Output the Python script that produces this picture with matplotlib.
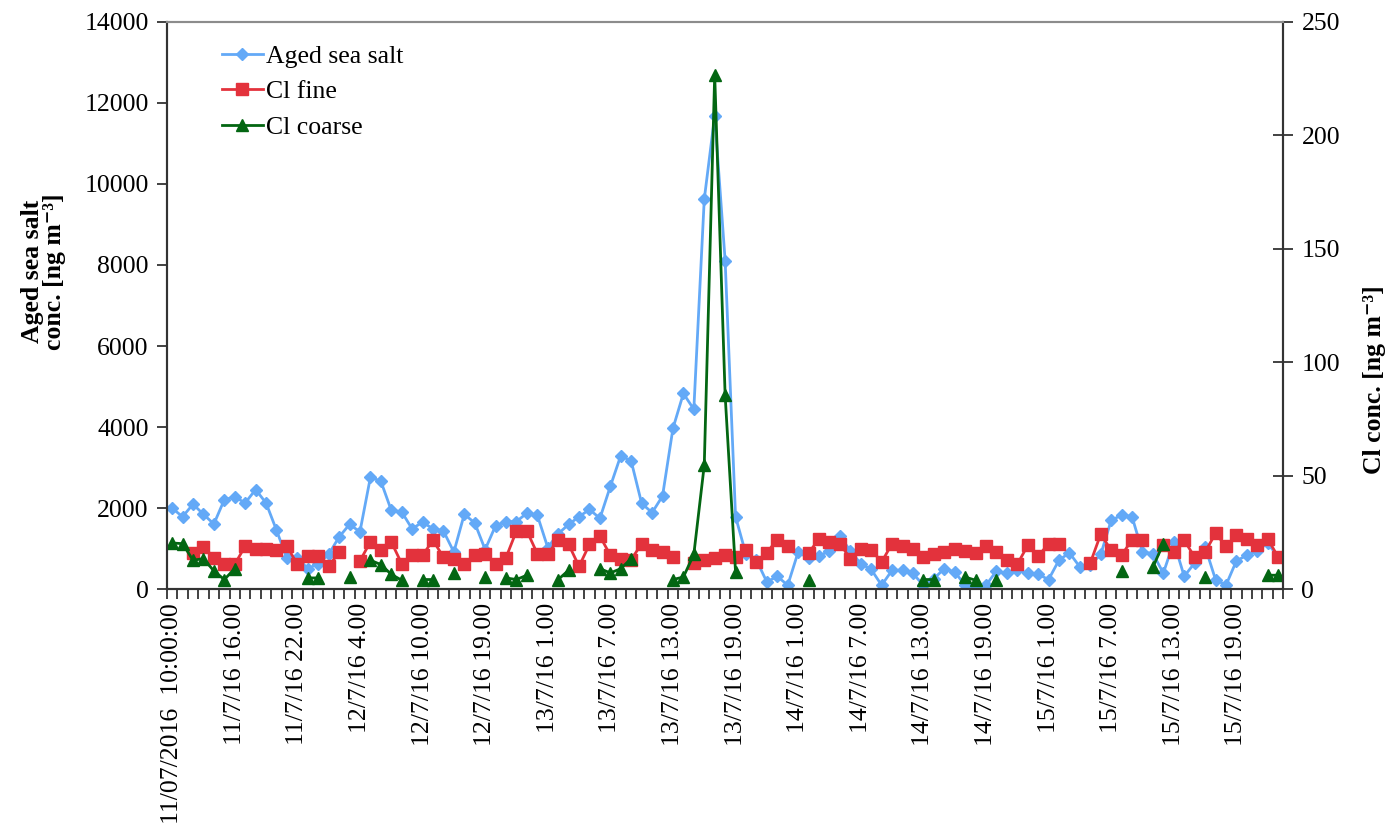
import numpy as np
import matplotlib
matplotlib.use('Agg')
import matplotlib.pyplot as plt

plt.rcParams['font.family'] = ['Liberation Serif', 'DejaVu Serif']

nan = np.nan

# aged sea salt, ng m-3 (left axis), one value per sample
aged_sea_salt = [2000, 1790, 2100, 1850, 1610, 2210, 2280, 2130, 2460, 2130,
                 1460, 760, 780, 510, 630, 860, 1290, 1600, 1420, 2760,
                 2670, 1950, 1910, 1490, 1660, 1490, 1440, 920, 1850, 1640,
                 980, 1570, 1670, 1670, 1880, 1830, 1030, 1370, 1600, 1790,
                 1970, 1750, 2540, 3300, 3160, 2120, 1890, 2300, 3970, 4830,
                 4440, 9620, 11680, 8110, 1790, 860, 720, 180, 320, 100,
                 920, 760, 820, 950, 1310, 950, 630, 490, 100, 470,
                 470, 390, 100, 260, 510, 430, 100, 40, 100, 450,
                 390, 470, 400, 370, 240, 720, 900, 550, 600, 860,
                 1700, 1830, 1790, 920, 880, 400, 1170, 320, 650, 1050,
                 240, 100, 700, 840, 950, 1140, 800]

# Cl fine, ng m-3 (right axis)
cl_fine = [nan, nan, 16.0, 18.7, 14.0, 11.0, 11.0, 19.0, 17.9, 17.9,
           17.5, 19.0, 11.0, 14.6, 14.6, 10.1, 16.3, nan, 12.5, 20.9,
           17.2, 20.9, 11.3, 15.0, 15.0, 21.6, 14.2, 13.5, 11.3, 15.0,
           15.4, 11.3, 14.0, 25.7, 25.7, 15.7, 15.7, 21.6, 19.8, 10.1,
           19.8, 23.4, 15.0, 13.5, 13.1, 20.1, 17.5, 16.6, 14.2, nan,
           11.6, 12.8, 14.0, 15.1, 14.2, 17.5, 12.0, 16.2, 21.9, 19.0,
           nan, 16.0, 22.2, 20.9, 20.1, 13.5, 17.9, 17.5, 12.0, 20.1,
           19.0, 17.9, 14.2, 15.4, 16.6, 17.9, 16.9, 16.0, 19.0, 16.6,
           13.0, 11.0, 19.3, 14.6, 20.1, 19.8, nan, nan, 11.6, 24.3,
           17.2, 15.0, 21.9, 21.6, nan, 19.4, 16.4, 21.6, 14.2, 16.4,
           24.6, 19.0, 23.8, 22.3, 19.4, 22.3, 14.2]

# Cl coarse, ng m-3 (right axis)
cl_coarse = [20.4, 20.1, 12.8, 13.5, 8.1, 4.3, 9.1, nan, nan, nan,
             nan, nan, nan, 5.0, 5.0, nan, nan, 5.4, nan, 12.8,
             10.9, 6.6, 4.0, nan, 4.3, 4.3, nan, 7.2, nan, nan,
             5.4, nan, 5.0, 4.3, 6.2, nan, nan, 4.3, 8.4, nan,
             nan, 9.1, 7.2, 9.1, 13.5, nan, nan, nan, 4.3, 5.4,
             15.4, 54.7, 226.6, 85.5, 7.6, nan, nan, nan, nan, nan,
             nan, 4.0, nan, nan, nan, nan, nan, nan, nan, nan,
             nan, nan, 4.3, 4.3, nan, nan, 5.4, 4.0, nan, 4.3,
             nan, nan, nan, nan, nan, nan, nan, nan, nan, nan,
             nan, 8.1, nan, nan, 9.8, 20.1, nan, nan, nan, 5.2,
             nan, nan, nan, nan, nan, 6.2, 6.2]

tick_labels = ['11/07/2016  10:00:00', '11/7/16 16.00', '11/7/16 22.00',
               '12/7/16 4.00', '12/7/16 10.00', '12/7/16 19.00',
               '13/7/16 1.00', '13/7/16 7.00', '13/7/16 13.00',
               '13/7/16 19.00', '14/7/16 1.00', '14/7/16 7.00',
               '14/7/16 13.00', '14/7/16 19.00', '15/7/16 1.00',
               '15/7/16 7.00', '15/7/16 13.00', '15/7/16 19.00']

n = len(aged_sea_salt)
x = np.arange(n)

fig = plt.figure(figsize=(13.91, 8.36), dpi=100)
ax = fig.add_axes([0.120, 0.2951, 0.8026, 0.6789])
ax2 = ax.twinx()

fs = 18.5
l1, = ax.plot(x, aged_sea_salt, color='#63A9F7', marker='D', markersize=6.5,
              linewidth=2, label='Aged sea salt')
l2, = ax2.plot(x, cl_fine, color='#E3323C', marker='s', markersize=8,
               linewidth=2, label='Cl fine')
l3, = ax2.plot(x, cl_coarse, color='#036612', marker='^', markersize=8.5,
               linewidth=2, label='Cl coarse')

ax.set_xlim(-0.5, n - 0.5)
ax.set_ylim(0, 14000)
ax2.set_ylim(0, 250)
ax.set_yticks(np.arange(0, 14001, 2000))
ax2.set_yticks(np.arange(0, 251, 50))

ax.set_xticks(np.arange(0, n, 6))
ax.set_xticklabels(tick_labels[:len(np.arange(0, n, 6))], rotation=90, fontsize=fs)
ax.set_xticks(np.arange(-0.5, n, 1), minor=True)
ax.tick_params(axis='x', which='major', length=0, pad=10)
ax.tick_params(axis='x', which='minor', length=7, width=1.3, direction='out', color='#333333')
ax.tick_params(axis='y', labelsize=fs, length=7, width=1.3, direction='out', color='#333333', pad=6)
ax2.tick_params(axis='y', labelsize=fs, length=14, width=1.3, direction='inout', color='#333333', pad=6)

for a in (ax, ax2):
    for side in ('left', 'right', 'bottom'):
        a.spines[side].set_color('#333333')
        a.spines[side].set_linewidth(1.5)
    a.spines['top'].set_color('#8c8c8c')
    a.spines['top'].set_linewidth(1.5)

ax.set_ylabel('Aged sea salt\nconc. [ng m⁻³]', fontsize=fs, fontweight='bold',
              linespacing=0.95)
ax.yaxis.set_label_coords(-0.09, 0.56)
ax2.set_ylabel('Cl conc. [ng m⁻³]', fontsize=fs, fontweight='bold')
ax2.yaxis.set_label_coords(1.071, 0.37)

ax.legend(handles=[l1, l2, l3], loc='upper left', bbox_to_anchor=(0.04, 0.977),
          frameon=False, fontsize=fs, handlelength=1.6, handletextpad=0.1,
          labelspacing=0.48, borderaxespad=0)

fig.savefig('out.png', dpi=100)
